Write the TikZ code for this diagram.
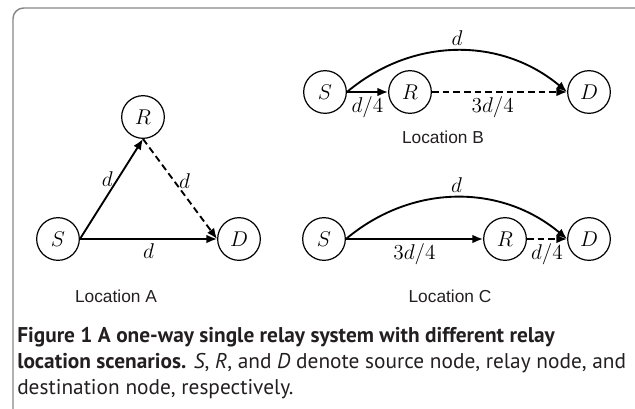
\documentclass[tikz,border=0pt]{standalone}
\usepackage{fix-cm}
\usepackage{fontspec}
\usepackage{xcolor}
\usepackage{tikz}
\usetikzlibrary{arrows.meta}
\newfontfamily\locfont{Liberation Sans}
\newfontfamily\capfont{PT Sans}
\definecolor{framegray}{RGB}{135,135,135}
\definecolor{inkgray}{RGB}{35,31,32}
\tikzset{
    stn/.style={circle,draw,line width=0.9pt,minimum size=32pt,inner sep=0pt,font=\fontsize{16}{19}\selectfont},
    arr/.style={-{Latex[length=8pt,width=6.5pt]},line width=1.4pt},
    darr/.style={arr,dash pattern=on 5pt off 3pt},
    lbl/.style={font=\fontsize{16}{19}\selectfont,inner sep=3pt},
    loc/.style={font=\locfont\fontsize{13}{15}\selectfont,text=inkgray},
}

\begin{document}
\begin{tikzpicture}[x=0.75pt,y=-0.75pt]
\clip (0,0) rectangle (635,408);
% frame
\draw[framegray,line width=1.1pt,rounded corners=8pt] (13,8) rectangle (646,420);
% location A
\node[stn] (sa) at (58,239)  {$S$};
\node[stn] (ra) at (143,117) {$R$};
\node[stn] (da) at (239,239) {$D$};
\draw[arr]  (sa.east)  -- node[lbl,pos=0.6,left] {$d$} (ra.south);
\draw[darr] (ra.south) -- node[lbl,pos=0.42,right] {$d$} (da.west);
\draw[arr]  (sa.east)  -- node[lbl,below] {$d$} (da.west);
\node[loc] (la) at (116,296) {Location A};
% location B
\node[stn] (sb) at (325,92) {$S$};
\node[stn] (rb) at (410,92) {$R$};
\node[stn] (db) at (589,92) {$D$};
\draw[arr]  (sb.east) -- node[lbl,below] {$d/4$} (rb.west);
\draw[darr] (rb.east) -- node[lbl,below,pos=0.45] {$3d/4$} (db.west);
\draw[arr]  (sb.east) to[bend left=40] node[lbl,above] {$d$} (db.west);
\node[loc] (lb) at (443,137) {Location B};
% location C
\node[stn] (sc) at (324,239) {$S$};
\node[stn] (rc) at (505,239) {$R$};
\node[stn] (dc) at (589,239) {$D$};
\draw[arr]  (sc.east) -- node[lbl,below] {$3d/4$} (rc.west);
\draw[darr] (rc.east) -- node[lbl,below] {$d/4$} (dc.west);
\draw[arr]  (sc.east) to[bend left=40] node[lbl,above] {$d$} (dc.west);
\node[loc] (lc) at (450,296) {Location C};
% caption
\node[anchor=north west,align=left,inner sep=0pt,text=inkgray,
      font=\capfont\fontsize{16}{17}\selectfont] (cap) at (17,327)
  {\textbf{Figure 1 A one-way single relay system with different relay}\\[2.5pt]
   \textbf{location scenarios.} \textit{S}, \textit{R}, and \textit{D} denote source node, relay node, and\\[2.5pt]
   destination node, respectively.};
\end{tikzpicture}
\end{document}
